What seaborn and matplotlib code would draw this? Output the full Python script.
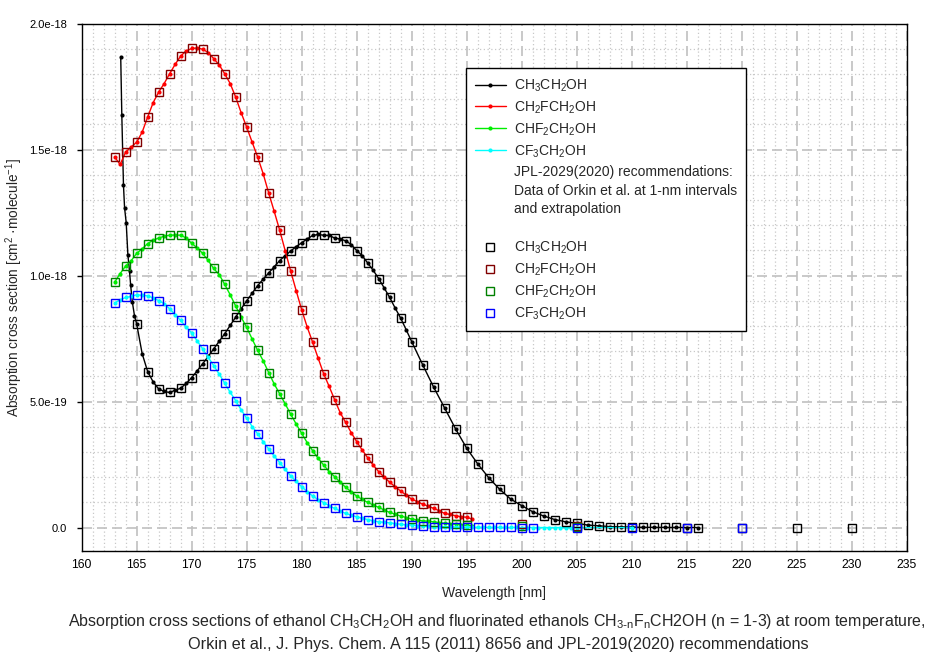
import numpy as np
import seaborn as sns
import matplotlib.pyplot as plt
from matplotlib.lines import Line2D
from matplotlib.ticker import FixedLocator, MultipleLocator, FuncFormatter

# Orkin et al. data (lines), cross sections in units of 1e-18 cm2/molecule
ch3_line_wl = ([163.55, 163.65, 163.8, 163.9, 164.05, 164.2, 164.35, 164.45, 164.6, 164.8]
               + list(np.arange(165, 190.5, 0.5)) + list(range(191, 217)))
ch3_line = [1.869, 1.637, 1.359, 1.269, 1.209, 1.083, 1.017, 0.964, 0.897, 0.841,
            0.808, 0.690, 0.619, 0.578, 0.550, 0.540, 0.536, 0.545, 0.553, 0.572,
            0.595, 0.622, 0.650, 0.679, 0.709, 0.739, 0.769, 0.802, 0.835, 0.868,
            0.900, 0.930, 0.960, 0.986, 1.010, 1.035, 1.059, 1.079, 1.097, 1.115,
            1.130, 1.145, 1.159, 1.163, 1.160, 1.159, 1.149, 1.145, 1.138, 1.123,
            1.099, 1.079, 1.050, 1.021, 0.988, 0.951, 0.913, 0.871, 0.831, 0.785,
            0.738,
            0.646, 0.557, 0.474, 0.391, 0.315, 0.253, 0.198, 0.152, 0.113, 0.087,
            0.063, 0.046, 0.032, 0.023, 0.017, 0.010, 0.007, 0.004, 0.003, 0.002,
            0.001, 0.001, 0.0007, 0.0005, 0.0003, 0.0002]

ch2f_line_wl = np.arange(163, 196, 0.5)
ch2f_line = [1.470, 1.441, 1.490, 1.510, 1.529, 1.569, 1.629, 1.686, 1.728, 1.762,
             1.801, 1.838, 1.871, 1.891, 1.901, 1.903, 1.898, 1.885, 1.861, 1.836,
             1.801, 1.762, 1.708, 1.646, 1.589, 1.529, 1.470, 1.404, 1.328, 1.255,
             1.180, 1.099, 1.018, 0.940, 0.864, 0.796, 0.735, 0.672, 0.610, 0.560,
             0.507, 0.456, 0.417, 0.377, 0.341, 0.308, 0.277, 0.248, 0.222, 0.200,
             0.180, 0.162, 0.145, 0.129, 0.113, 0.103, 0.093, 0.085, 0.076, 0.067,
             0.056, 0.052, 0.047, 0.043, 0.041, 0.034]

chf2_line_wl = np.arange(163, 196, 0.5)
chf2_line = [0.974, 1.008, 1.038, 1.059, 1.088, 1.106, 1.127, 1.140, 1.149, 1.156,
             1.160, 1.161, 1.160, 1.149, 1.128, 1.110, 1.088, 1.060, 1.028, 1.004,
             0.965, 0.924, 0.879, 0.835, 0.794, 0.748, 0.703, 0.662, 0.615, 0.570,
             0.531, 0.491, 0.450, 0.411, 0.374, 0.337, 0.305, 0.275, 0.248, 0.222,
             0.202, 0.180, 0.160, 0.142, 0.125, 0.112, 0.100, 0.090, 0.080, 0.070,
             0.060, 0.053, 0.046, 0.040, 0.034, 0.030, 0.027, 0.025, 0.023, 0.020,
             0.017, 0.015, 0.013, 0.011, 0.009, 0.008]

cf3_line_wl = list(np.arange(163, 205.5, 0.5)) + [210]
cf3_line = [0.891, 0.904, 0.913, 0.917, 0.924, 0.921, 0.920, 0.911, 0.901, 0.888,
            0.868, 0.845, 0.822, 0.796, 0.772, 0.741, 0.709, 0.676, 0.643, 0.609,
            0.573, 0.537, 0.504, 0.467, 0.434, 0.401, 0.372, 0.341, 0.312, 0.284,
            0.258, 0.231, 0.205, 0.183, 0.162, 0.143, 0.125, 0.111, 0.099, 0.087,
            0.076, 0.066, 0.056, 0.049, 0.043, 0.037, 0.032, 0.027, 0.023, 0.021,
            0.019, 0.016, 0.013, 0.011, 0.010, 0.008, 0.006, 0.005, 0.004, 0.004,
            0.004, 0.003, 0.002, 0.002, 0.001, 0.001, 0.001, 0.001, 0.0008, 0.0007,
            0.0006, 0.0005, 0.0004, 0.0004, 0.0003, 0.0003, 0.0002, 0.0002, 0.0002, 0.0002,
            0.0001, 0.0001, 0.0001, 0.0001, 0.0001,
            0.00005]

# JPL-2019(2020) recommendations (squares)
ch3_jpl_wl = list(range(165, 217)) + [220, 225, 230]
ch3_jpl = [0.808, 0.619, 0.550, 0.536, 0.553, 0.595, 0.650, 0.709, 0.769, 0.835,
           0.900, 0.960, 1.010, 1.059, 1.097, 1.130, 1.159, 1.160, 1.149, 1.138,
           1.099, 1.050, 0.988, 0.913, 0.831, 0.738, 0.646, 0.557, 0.474, 0.391,
           0.315, 0.253, 0.198, 0.152, 0.113, 0.087, 0.063, 0.046, 0.032, 0.023,
           0.017, 0.010, 0.007, 0.004, 0.003, 0.002, 0.001, 0.001, 0.0007, 0.0005,
           0.0003, 0.0002,
           0.0001, 0.00005, 0.00002]

ch2f_jpl_wl = list(range(163, 196)) + [200, 205]
ch2f_jpl = [1.470, 1.490, 1.529, 1.629, 1.728, 1.801, 1.871, 1.901, 1.898, 1.861,
            1.801, 1.708, 1.589, 1.470, 1.328, 1.180, 1.018, 0.864, 0.735, 0.610,
            0.507, 0.417, 0.341, 0.277, 0.222, 0.180, 0.145, 0.113, 0.093, 0.076,
            0.056, 0.047, 0.041,
            0.015, 0.005]

chf2_jpl_wl = list(range(163, 196)) + [200, 205]
chf2_jpl = [0.974, 1.038, 1.088, 1.127, 1.149, 1.160, 1.160, 1.128, 1.088, 1.028,
            0.965, 0.879, 0.794, 0.703, 0.615, 0.531, 0.450, 0.374, 0.305, 0.248,
            0.202, 0.160, 0.125, 0.100, 0.080, 0.060, 0.046, 0.034, 0.027, 0.023,
            0.017, 0.013, 0.009,
            0.007, 0.003]

cf3_jpl_wl = list(range(163, 202)) + [205, 210, 215, 220]
cf3_jpl = [0.891, 0.913, 0.924, 0.920, 0.901, 0.868, 0.822, 0.772, 0.709, 0.643,
           0.573, 0.504, 0.434, 0.372, 0.312, 0.258, 0.205, 0.162, 0.125, 0.099,
           0.076, 0.056, 0.043, 0.032, 0.023, 0.019, 0.013, 0.010, 0.006, 0.004,
           0.004, 0.002, 0.001, 0.001, 0.0008, 0.0006, 0.0004, 0.0003, 0.0002,
           0.0001, 0.00005, 0.00002, 0.00001]

names = [r'CH$_3$CH$_2$OH', r'CH$_2$FCH$_2$OH', r'CHF$_2$CH$_2$OH', r'CF$_3$CH$_2$OH']
line_colors = ['#000000', '#ff0000', '#00ee00', '#00ffff']
square_colors = ['#000000', '#800000', '#008000', '#0000ff']

x_ticks = list(range(160, 236, 5))
y_ticks = [0.0, 0.5e-18, 1.0e-18, 1.5e-18, 2.0e-18]

sns.set_style('white')
plt.rcParams['font.family'] = ['Liberation Sans', 'DejaVu Sans']
plt.rcParams['mathtext.default'] = 'regular'

fig = plt.figure(figsize=(9.43, 6.57), dpi=100)
ax = fig.add_axes([0.0866, 0.1613, 0.8749, 0.8029])

lines = [(ch3_line_wl, ch3_line), (ch2f_line_wl, ch2f_line),
         (chf2_line_wl, chf2_line), (cf3_line_wl, cf3_line)]
jpl = [(ch3_jpl_wl, ch3_jpl), (ch2f_jpl_wl, ch2f_jpl),
       (chf2_jpl_wl, chf2_jpl), (cf3_jpl_wl, cf3_jpl)]

# Orkin et al. curves
for (wl, sig), col in zip(lines, line_colors):
    sns.lineplot(x=np.asarray(wl, dtype=float), y=np.asarray(sig) * 1e-18, ax=ax,
                 color=col, linewidth=1, marker='o', markersize=3,
                 markeredgecolor=col, markeredgewidth=0, sort=False,
                 errorbar=None, zorder=2)

# JPL squares
for (wl, sig), col in zip(jpl, square_colors):
    sns.lineplot(x=np.asarray(wl, dtype=float), y=np.asarray(sig) * 1e-18, ax=ax,
                 linestyle='', marker='s', markersize=6,
                 markerfacecolor='none', markeredgecolor=col, markeredgewidth=1,
                 errorbar=None, zorder=3)

ax.set_xlim(160, 235)
ax.set_ylim(-0.093e-18, 2.0e-18)
ax.xaxis.set_major_locator(FixedLocator(x_ticks))
ax.xaxis.set_minor_locator(MultipleLocator(1))
ax.yaxis.set_major_locator(FixedLocator(y_ticks))
ax.yaxis.set_minor_locator(MultipleLocator(0.1e-18))
ax.yaxis.set_major_formatter(FuncFormatter(lambda v, p: '0.0' if abs(v) < 1e-25 else f'{v:.1e}'))

ax.set_axisbelow(True)
ax.grid(which='major', color='#c0c0c0', linestyle=(0, (6, 3)), linewidth=1.2)
ax.grid(which='minor', color='#c8c8c8', linestyle=(0, (1, 2)), linewidth=0.9)

for sp in ax.spines.values():
    sp.set_color('black')
    sp.set_linewidth(1)
ax.tick_params(axis='x', which='both', length=0, pad=6, labelsize=8.7, colors='black')
ax.tick_params(axis='y', which='major', length=3.3, width=1, pad=7, labelsize=8,
               colors='black', left=True)
ax.tick_params(axis='y', which='minor', length=0)

ax.set_xlabel('Wavelength [nm]', fontsize=10)
ax.xaxis.set_label_coords(0.5, -0.066)
ax.set_ylabel(r'Absorption cross section [cm$^2$ ·molecule$^{-1}$]', fontsize=9.8)
ax.yaxis.set_label_coords(-0.069, 0.5)

# legend
handles = [Line2D([], [], color=c, lw=1, marker='o', markersize=3, markeredgewidth=0)
           for c in line_colors]
handles.append(Line2D([], [], linestyle='', marker=''))
handles += [Line2D([], [], linestyle='', marker='s', markersize=6, markerfacecolor='none',
                   markeredgecolor=c, markeredgewidth=1) for c in square_colors]
labels = names + ['JPL-2029(2020) recommendations:\nData of Orkin et al. at 1-nm intervals\n'
                  'and extrapolation\n'] + names
leg = ax.legend(handles, labels, loc='upper left', bbox_to_anchor=(0.466, 0.915),
                borderaxespad=0, fontsize=10, frameon=True, fancybox=False,
                edgecolor='black', framealpha=1, handlelength=2.2, handletextpad=0.6,
                labelspacing=0.4, borderpad=0.65)
leg.get_frame().set_linewidth(1)
leg.get_texts()[4].set_linespacing(1.4)

fig.text(0.527, 0.0545, r'Absorption cross sections of ethanol CH$_3$CH$_2$OH and fluorinated '
         r'ethanols CH$_{3\text{-}n}$F$_n$CH2OH (n = 1-3) at room temperature,',
         ha='center', va='center', fontsize=11.5)
fig.text(0.528, 0.0195, 'Orkin et al., J. Phys. Chem. A 115 (2011) 8656 and JPL-2019(2020) recommendations',
         ha='center', va='center', fontsize=11.7)

fig.savefig('out.png', dpi=100)
